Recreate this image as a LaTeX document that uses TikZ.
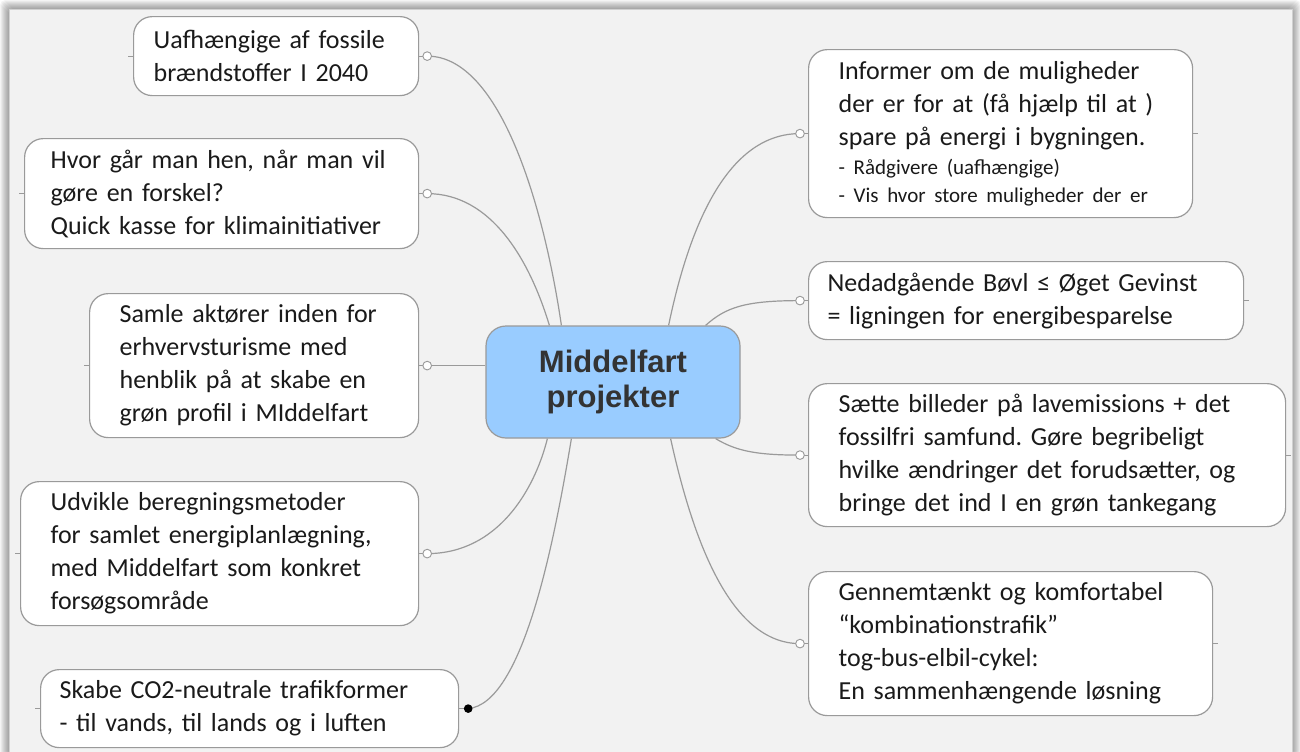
\documentclass[tikz,border=0pt]{standalone}
\usepackage{fontspec}
\setmainfont{Carlito}
\newfontfamily\ctrfont{Liberation Sans}
\usetikzlibrary{calc}
\frenchspacing
\definecolor{panel}{HTML}{F2F2F2}
\definecolor{paneledge}{HTML}{D0D0D0}
\definecolor{edge}{HTML}{9A9A9A}
\definecolor{ctrfill}{HTML}{99CCFF}
\definecolor{ctrtext}{HTML}{333333}
\definecolor{boxtext}{HTML}{1A1A1A}
\begin{document}
\begin{tikzpicture}[x=0.75pt,y=-0.75pt,
  box/.style={draw=edge, line width=0.9pt, fill=white, rounded corners=14pt, anchor=north west,
    align=left, inner ysep=0pt, text=boxtext,
    font=\frenchspacing\fontsize{19.5}{24.75}\selectfont},
  ctrbox/.style={draw=edge, line width=0.9pt, fill=ctrfill, rounded corners=15pt, align=center,
    text=ctrtext, minimum width=190.5pt, minimum height=84pt, inner sep=0pt,
    font=\ctrfont\bfseries\fontsize{23.25}{26.25}\selectfont},
  link/.style={draw=edge, line width=0.9pt},
  knob/.style={circle, draw=edge, fill=white, line width=0.7pt, inner sep=0pt, minimum size=6.5pt},
  dot/.style={circle, fill=black, inner sep=0pt, minimum size=6.5pt},
  stub/.style={draw=edge, line width=0.6pt}
]
\useasboundingbox (0,0) rectangle (1300,751);
\clip (0,0) rectangle (1300,751);
% frame with shadow
\fill[white] (0,0) rectangle (1300,751);
\foreach \i in {1,...,9} {
  \fill[black, opacity=0.045, rounded corners=4pt] (9-\i,9-\i) rectangle (1292+\i,770);
}
\filldraw[fill=panel, draw=paneledge, line width=0.5pt] (9,9) rectangle (1292,770);

% centre
\node[ctrbox] (ctr) at (613,382) {Middelfart\\projekter};

% left boxes
\node[box, text width=183.75pt, inner xsep=15pt, minimum height=59.25pt] (uaf) at (133,16)
  {Uafhængige af fossile\\brændstoffer I 2040};
\node[box, text width=256.5pt, inner xsep=19.5pt, minimum height=82.5pt] (hvor) at (24,138)
  {Hvor går man hen, når man vil\\gøre en forskel?\\Quick kasse for klimainitiativer};
\node[box, text width=201.75pt, inner xsep=22.5pt, minimum height=108pt] (saml) at (89,293)
  {Samle aktører inden for\\erhvervsturisme med\\henblik på at skabe en\\grøn profil i MIddelfart};
\node[box, text width=253.5pt, inner xsep=22.5pt, minimum height=108pt] (udv) at (20,481)
  {Udvikle beregningsmetoder\\for samlet energiplanlægning,\\med Middelfart som konkret\\forsøgsområde};
\node[box, text width=285pt, inner xsep=14.25pt, minimum height=58.5pt] (skab) at (40,669)
  {Skabe CO2-neutrale trafikformer\\- til vands, til lands og i luften};

% right boxes
\node[box, text width=243pt, inner xsep=22.5pt, minimum height=126pt] (inf) at (808,49)
  {Informer om de muligheder\\der er for at (få hjælp til at )\\spare på energi i bygningen.\par
   \fontsize{15.75}{21.75}\selectfont - Rådgivere (uafhængige)\\[-3.75pt]- Vis hvor store muligheder der er};
\node[box, text width=297.75pt, inner xsep=14.25pt, minimum height=58.5pt] (ned) at (808,261)
  {Nedadgående Bøvl ≤ Øget Gevinst\\= ligningen for energibesparelse};
\node[box, text width=312.75pt, inner xsep=22.5pt, minimum height=107.25pt] (saet) at (808,383)
  {Sætte billeder på lavemissions + det\\fossilfri samfund. Gøre begribeligt\\hvilke ændringer det forudsætter, og\\bringe det ind I en grøn tankegang};
\node[box, text width=258pt, inner xsep=22.5pt, minimum height=108pt] (gen) at (808,571)
  {Gennemtænkt og komfortabel\\“kombinationstrafik”\\tog-bus-elbil-cykel:\\En sammenhængende løsning};

% connector points
\coordinate (kuaf) at ($(uaf.east)+(8,0)$);
\coordinate (khvor) at ($(hvor.east)+(8,0)$);
\coordinate (ksaml) at ($(saml.east)+(8,0)$);
\coordinate (kudv) at ($(udv.east)+(8,0)$);
\coordinate (kskab) at ($(skab.east)+(9,0)$);
\coordinate (kinf) at ($(inf.west)+(-8,0)$);
\coordinate (kned) at ($(ned.west)+(-8,0)$);
\coordinate (ksaet) at ($(saet.west)+(-8,0)$);
\coordinate (kgen) at ($(gen.west)+(-8,0)$);

% connectors
\draw[link] (kuaf) .. controls +(74,0) and +(-17,-116) .. ($(ctr.north west)+(76,0)$);
\draw[link] (khvor) .. controls +(64,0) and +(-20,-66) .. ($(ctr.north west)+(64,0)$);
\draw[link] (ksaml) -- (ksaml -| ctr.west);
\draw[link] (kudv) .. controls +(70,0) and +(-13,52) .. ($(ctr.south west)+(62,0)$);
\draw[link] (kskab) .. controls +(55,-5) and +(-17,102) .. ($(ctr.south west)+(86,0)$);
\draw[link] (kinf) .. controls +(-70,0) and +(22,-106) .. ($(ctr.north east)+(-72,0)$);
\draw[link] (kned) .. controls +(-55,0) and +(20,-18) .. ($(ctr.north east)+(-35,0)$);
\draw[link] (ksaet) .. controls +(-45,0) and +(20,12) .. ($(ctr.south east)+(-25,0)$);
\draw[link] (kgen) .. controls +(-70,0) and +(22,100) .. ($(ctr.south east)+(-70,0)$);

% short joins from box to knob
\draw[link] (uaf.east) -- (kuaf);
\draw[link] (hvor.east) -- (khvor);
\draw[link] (saml.east) -- (ksaml);
\draw[link] (udv.east) -- (kudv);
\draw[link] (skab.east) -- (kskab);
\draw[link] (inf.west) -- (kinf);
\draw[link] (ned.west) -- (kned);
\draw[link] (saet.west) -- (ksaet);
\draw[link] (gen.west) -- (kgen);

% knobs
\foreach \k in {kuaf,khvor,ksaml,kudv,kinf,kned,ksaet,kgen} {
  \node[knob] at (\k) {};
}
\node[dot] (dskab) at (kskab) {};

% stubs on the far sides
\draw[stub] (uaf.west) -- +(-5,0);
\draw[stub] (hvor.west) -- +(-5,0);
\draw[stub] (saml.west) -- +(-5,0);
\draw[stub] (udv.west) -- +(-5,0);
\draw[stub] (skab.west) -- +(-5,0);
\draw[stub] (inf.east) -- +(5,0);
\draw[stub] (ned.east) -- +(5,0);
\draw[stub] (saet.east) -- +(5,0);
\draw[stub] (gen.east) -- +(5,0);
\end{tikzpicture}
\end{document}
